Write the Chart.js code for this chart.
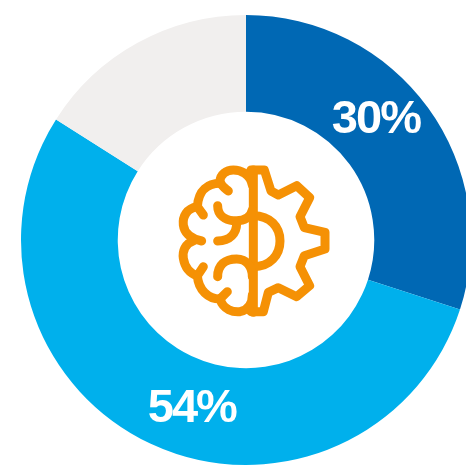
<!DOCTYPE html>
<html>
<head>
<meta charset="utf-8">
<style>
    html, body { margin: 0; padding: 0; width: 466px; height: 465px; overflow: hidden; background: #fff; }
    canvas { position: absolute; left: 0; top: 0; }
</style>
</head>
<body>
<canvas id="donutChart" width="492" height="480"></canvas>
<script src="https://cdn.jsdelivr.net/npm/chart.js@4"></script>
<script>
const categories = ['A', 'B', 'C'];
const shares = [30, 54, 16];
const sliceColors = ['#0068B4', '#00B0EC', '#F1EFEE'];
const shownLabels = ['30%', '54%', ''];
const labelOffsets = [[-13, -16], [21, 9], [0, 0]];

// white percentage text on top of the slices
const sliceLabels = {
    id: 'sliceLabels',
    afterDatasetsDraw(chart) {
        const ctx = chart.ctx;
        const arcs = chart.getDatasetMeta(0).data;
        ctx.save();
        ctx.fillStyle = '#fff';
        ctx.font = 'bold 47px "Liberation Sans", Arial, sans-serif';
        ctx.letterSpacing = '-2px';
        ctx.textAlign = 'center';
        ctx.textBaseline = 'middle';
        arcs.forEach((arc, i) => {
            if (!shownLabels[i]) return;
            const pos = arc.tooltipPosition();
            ctx.fillText(shownLabels[i], pos.x + labelOffsets[i][0], pos.y + labelOffsets[i][1]);
        });
        ctx.restore();
    }
};

// brain + gear icon in the hole, traced on a 525 unit box
const brainGearIcon = {
    id: 'brainGearIcon',
    afterDatasetsDraw(chart) {
        const ctx = chart.ctx;
        const paths = [
            // spine and gear teeth
            'M265 45 L265 472',
            'M258 45 L298 45 L318 108 L340 120 L395 92 L434 128 L405 185 L418 218 L480 232 L480 282 L418 302 L405 335 L434 392 L395 425 L340 398 L310 412 L295 470 L258 470',
            // half disc
            'M265 182 C315 182 345 215 345 258 C345 300 315 335 265 335',
            // brain outline, top to bottom
            'M262 90 C255 55 225 45 205 45 C185 45 165 58 165 80 C170 95 180 100 190 108',
            'M165 85 C130 85 100 105 97 155 L115 180',
            'M97 155 C65 160 52 185 55 210 C58 235 75 250 110 258',
            'M85 258 C60 265 52 290 55 310 C60 340 75 355 97 362 L115 335',
            'M97 362 C100 405 130 432 165 432 L187 410',
            'M165 432 C175 465 205 472 225 470 C250 465 262 445 262 420',
            // inner folds
            'M158 152 C158 180 180 195 205 197 C240 200 258 185 262 165',
            'M158 258 C195 258 215 235 215 205',
            'M158 365 C158 330 180 312 215 312 C245 312 262 335 262 365'
        ];
        ctx.save();
        ctx.translate(165, 155);
        ctx.scale(1 / 3, 1 / 3);
        ctx.strokeStyle = '#F59105';
        ctx.lineWidth = 27;
        ctx.lineCap = 'round';
        ctx.lineJoin = 'round';
        paths.forEach(d => ctx.stroke(new Path2D(d)));
        ctx.restore();
    }
};

new Chart(document.getElementById('donutChart').getContext('2d'), {
    type: 'doughnut',
    data: {
        labels: categories,
        datasets: [{
            data: shares,
            backgroundColor: sliceColors,
            borderWidth: 0,
            hoverOffset: 0
        }]
    },
    options: {
        responsive: false,
        animation: false,
        cutout: '57%',
        layout: { padding: 15 },
        plugins: {
            legend: { display: false },
            tooltip: { enabled: false }
        }
    },
    plugins: [sliceLabels, brainGearIcon]
});
</script>
</body>
</html>
